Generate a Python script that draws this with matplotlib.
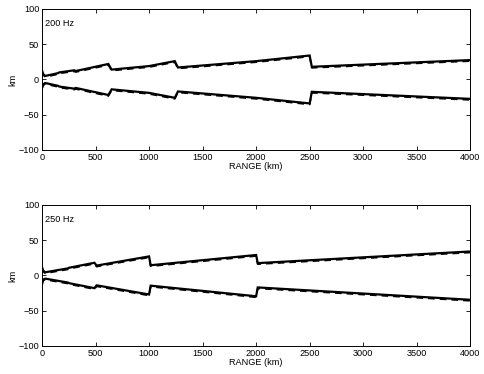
import numpy as np
import matplotlib
matplotlib.use("Agg")
import matplotlib.pyplot as plt

plt.rcParams['font.family'] = ['Liberation Sans', 'DejaVu Sans']
plt.rcParams['font.size'] = 6.6

# 200 Hz panel: beam edges (km) vs range (km)
r200 = [0, 10, 30, 150, 160, 300, 315, 620, 650, 1000, 1240, 1270, 2000, 2500, 2520, 4000]
up200 = [13, 8, 5, 9, 10, 13, 12, 22, 14, 19, 26, 17, 26, 34, 18, 27.5]
lo200 = [-12, -7, -5, -9, -10, -13, -12, -22, -14, -19, -26, -17, -26, -34, -17.5, -27.5]

# 250 Hz panel
r250 = [0, 10, 30, 240, 255, 490, 510, 1000, 1015, 2000, 2015, 4000]
up250 = [12, 7, 4.5, 10, 11, 18, 14, 27, 14.5, 29, 17.5, 34]
lo250 = [-12, -6, -4.5, -10, -11, -18, -14, -27, -14.5, -29.5, -17, -34.5]

offset = 1.5  # dashed line sits just below the solid one

panels = [("200 Hz", r200, up200, lo200), ("250 Hz", r250, up250, lo250)]
positions = [[0.0866, 0.599, 0.883, 0.377], [0.0866, 0.075, 0.883, 0.377]]

fig = plt.figure(figsize=(4.85, 3.74), dpi=100)
for (label, r, up, lo), pos in zip(panels, positions):
    ax = fig.add_axes(pos)
    r = np.array(r)
    up = np.array(up)
    lo = np.array(lo)
    for y in (up, lo):
        ax.plot(r, y, color='black', lw=1.6, solid_joinstyle='miter')
        ax.plot(r, y - offset, color='black', lw=1.2, ls=(0, (4, 3)))
    ax.set_xlim(0, 4000)
    ax.set_ylim(-100, 100)
    ax.set_xticks(np.arange(0, 4001, 500))
    ax.set_yticks([-100, -50, 0, 50, 100])
    ax.tick_params(direction='in', length=3, width=0.6, top=True, right=True, pad=2)
    for s in ax.spines.values():
        s.set_linewidth(0.7)
    ax.set_xlabel('RANGE (km)', labelpad=0)
    ax.set_ylabel('km', labelpad=1)
    ax.text(0.008, 0.895, label, transform=ax.transAxes, va='center', ha='left')

fig.savefig('out.png', dpi=100)
